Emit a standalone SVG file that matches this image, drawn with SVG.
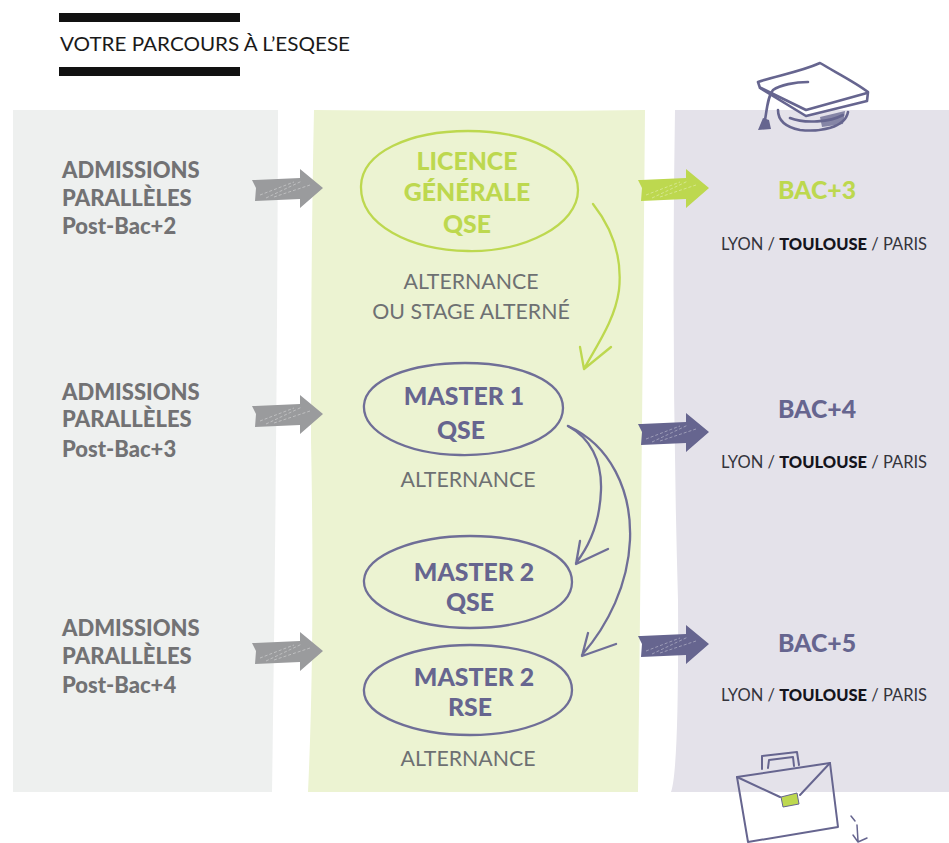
<svg xmlns="http://www.w3.org/2000/svg" width="949" height="843" viewBox="0 0 949 843">
<style>
text{font-family:"Lato","Liberation Sans",sans-serif}
.h{font-weight:900;font-size:22px;fill:#727274}
.n{font-weight:900;font-size:24.8px;text-anchor:middle}
.g{fill:#bdd84f}.p{fill:#66658f}
.a{font-size:21.3px;fill:#6e7072;text-anchor:middle}
.c{font-size:16.5px;fill:#34343c;text-anchor:middle}
.c tspan{font-weight:900;fill:#14141c}
.sg{fill:none;stroke:#bdd84f;stroke-width:2.3;stroke-linecap:round;stroke-linejoin:round}
.sp{fill:none;stroke:#6f6e97;stroke-width:2.3;stroke-linecap:round;stroke-linejoin:round}
.ic{fill:none;stroke:#66658f;stroke-width:2.6;stroke-linecap:round;stroke-linejoin:round}
.hatch{fill:none;stroke:#fff;stroke-opacity:.35;stroke-width:1;stroke-dasharray:3 2}
</style>
<defs>
<g id="arr"><path d="M0 -8L3 -8L48 -10L48 -19L71 0L48 20L48 11L3 13L4 0Z"/><path class="hatch" d="M8 7L42 -6M14 10L50 -7M22 9L58 -3"/></g>
</defs>
<g id="title">
<rect x="59" y="13" width="181" height="9" fill="#111"/>
<rect x="59" y="67" width="181" height="9" fill="#111"/>
<text x="60" y="51" font-size="19.5" fill="#1a1a1a" textLength="290" lengthAdjust="spacingAndGlyphs">VOTRE PARCOURS À L’ESQESE</text>
</g>
<g id="panels">
<path d="M13 110H278Q277 450 272 792H13Z" fill="#eef0ef"/>
<path d="M314 110Q480 112 645 110Q642 450 638 792H308Q315 640 311 440Q311 250 314 110Z" fill="#ecf3d2"/>
<path d="M675 110H949V792H671Q679 770 678 600Q671 350 675 110Z" fill="#e4e2ea"/>
</g>
<g id="connectors">
<use href="#arr" x="252" y="188" fill="#9a9b9d"/>
<use href="#arr" x="252" y="414" fill="#9a9b9d"/>
<use href="#arr" x="252" y="651" fill="#9a9b9d"/>
<use href="#arr" x="638" y="188" fill="#bdd84f"/>
<use href="#arr" x="638" y="432" fill="#66658f"/>
<use href="#arr" x="638" y="644" fill="#66658f"/>
<path class="sg" d="M593 204C615 232 622 262 619 290C615 320 597 345 584 369M580 347L584 369L611 347"/>
<path class="sp" d="M568 426C590 438 602 460 601 490C600 520 590 545 576 563M580 541L576 564L608 549"/>
<path class="sp" d="M568 426C610 445 632 490 630 540C628 585 608 625 582 655M588 633L582 656L616 644"/>
</g>
<g id="adm1"><text class="h" x="62" y="178">ADMISSIONS</text><text class="h" x="62" y="206">PARALLÈLES</text><text class="h" x="62" y="234">Post-Bac+2</text></g>
<g id="adm2"><text class="h" x="62" y="400">ADMISSIONS</text><text class="h" x="62" y="427">PARALLÈLES</text><text class="h" x="62" y="457">Post-Bac+3</text></g>
<g id="adm3"><text class="h" x="62" y="636">ADMISSIONS</text><text class="h" x="62" y="664">PARALLÈLES</text><text class="h" x="62" y="693">Post-Bac+4</text></g>
<g id="licence">
<path class="sg" d="M361 186C362 152 410 131 468 131C530 131 578 155 578 190C578 225 525 252 468 251C410 250 360 225 361 186Z"/>
<text class="n g" x="467" y="170">LICENCE</text><text class="n g" x="467" y="201">GÉNÉRALE</text><text class="n g" x="467" y="233">QSE</text>
<text class="a" x="471" y="289">ALTERNANCE</text><text class="a" x="471" y="319">OU STAGE ALTERNÉ</text>
</g>
<g id="master1">
<path class="sp" d="M364 405C366 380 410 363 465 363C520 363 563 381 563 408C563 436 515 456 460 455C405 454 362 432 364 405Z"/>
<text class="n p" x="464" y="405">MASTER 1</text><text class="n p" x="461" y="439">QSE</text>
<text class="a" x="468" y="487">ALTERNANCE</text>
</g>
<g id="master2qse">
<path class="sp" d="M364 580C366 555 415 536 470 536C530 536 572 555 572 582C572 610 525 628 470 628C415 628 362 607 364 580Z"/>
<text class="n p" x="474" y="581">MASTER 2</text><text class="n p" x="470" y="611">QSE</text>
</g>
<g id="master2rse">
<path class="sp" d="M364 689C366 664 415 645 470 645C530 645 572 663 572 690C572 716 525 735 470 735C415 735 362 716 364 689Z"/>
<text class="n p" x="474" y="686">MASTER 2</text><text class="n p" x="470" y="716">RSE</text>
<text class="a" x="468" y="766">ALTERNANCE</text>
</g>
<g id="bac3"><text class="n g" x="817" y="199">BAC+3</text><text class="c" x="824" y="250">LYON / <tspan>TOULOUSE</tspan> / PARIS</text></g>
<g id="bac4"><text class="n p" x="817" y="418">BAC+4</text><text class="c" x="824" y="468">LYON / <tspan>TOULOUSE</tspan> / PARIS</text></g>
<g id="bac5"><text class="n p" x="817" y="652">BAC+5</text><text class="c" x="824" y="701">LYON / <tspan>TOULOUSE</tspan> / PARIS</text></g>
<g id="cap">
<path d="M758 82C775 76 800 72 820 63C835 72 855 82 868 92L867 101L806 116L760 88Z" class="ic" style="fill:#fff"/>
<path class="ic" d="M761 88L806 110L867 93M778 110C778 120 785 127 800 130C820 132 845 128 848 112M790 118C805 124 830 122 843 115M808 82C795 82 780 85 773 90C768 96 767 108 765 120"/>
<path d="M763 118L769 120L771 129L758 130Z" fill="#66658f"/>
<path d="M820 117L845 111L843 124L822 127Z" fill="#66658f" fill-opacity=".75"/>
</g>
<g id="briefcase">
<path class="ic" style="stroke-width:2" d="M762 769L762 756L797 752L799 765M768 768L769 760L793 757L794 766"/>
<path class="ic" style="stroke-width:2" d="M737 777L830 763L838 827L748 842Z"/>
<path class="ic" style="stroke-width:2" d="M737 777L780 797M830 763L800 795"/>
<path d="M781 797L797 793L799 804L783 807Z" fill="#bdd84f" stroke="#66658f" stroke-width="1"/>
<path class="ic" style="stroke-width:1.5" d="M851 816L855 821M857 825L858 841M853 835L858 842L867 838"/>
</g>
</svg>
